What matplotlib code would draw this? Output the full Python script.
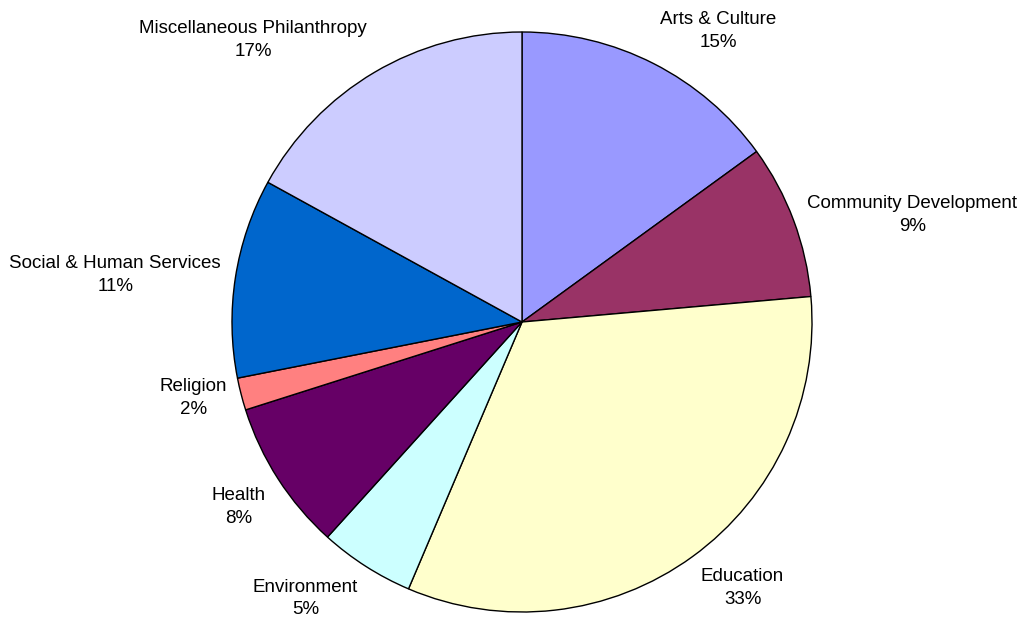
import numpy as np
import matplotlib.pyplot as plt

plt.rcParams['font.family'] = ['Liberation Sans', 'DejaVu Sans']

# Slices, clockwise from 12 o'clock
categories = ['Arts & Culture', 'Community Development', 'Education', 'Environment',
              'Health', 'Religion', 'Social & Human Services', 'Miscellaneous Philanthropy']
shares = [15.0, 8.6, 32.8, 5.3, 8.4, 1.8, 11.1, 17.0]
colors = ['#9999FF', '#993366', '#FFFFCC', '#CCFFFF',
          '#660066', '#FF8080', '#0066CC', '#CCCCFF']

fig = plt.figure(figsize=(10.24, 6.27), dpi=100)
ax = fig.add_axes([232 / 1024, 15 / 627, 580 / 1024, 580 / 627])

wedges, _ = ax.pie(shares, colors=colors, startangle=90, counterclock=False,
                   radius=1, wedgeprops=dict(edgecolor='black', linewidth=1))

total = sum(shares)
for w, name, val in zip(wedges, categories, shares):
    ang = np.deg2rad((w.theta1 + w.theta2) / 2)
    c, s = np.cos(ang), np.sin(ang)
    x, y = 1.05 * c, 1.05 * s
    ha = 'left' if c > 0.3 else ('right' if c < -0.3 else 'center')
    va = 'bottom' if s > 0.5 else ('top' if s < -0.5 else 'center')
    pct = round(val / total * 100)
    ax.text(x, y, f'{name}\n{pct}%', ha=ha, va=va, multialignment='center',
            fontsize=13.5, linespacing=1.45)

ax.set_xlim(-1, 1)
ax.set_ylim(-1, 1)
ax.set_aspect('equal')
ax.axis('off')

fig.savefig('out.png', dpi=100)
